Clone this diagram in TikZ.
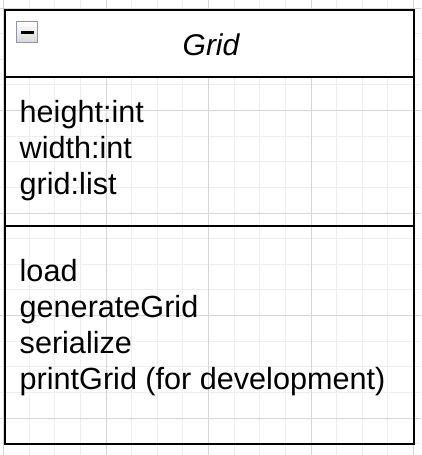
\documentclass[tikz,border=0pt]{standalone}
\usepackage{fontspec}
\setmainfont{Liberation Sans}
\usepackage{tikz}

\definecolor{MinorGrid}{HTML}{EEEEEE}
\definecolor{MajorGrid}{HTML}{D6D6D6}
\definecolor{IconBorder}{HTML}{8E95A5}

\tikzset{
  minorline/.style = {draw = MinorGrid, line width = 1pt},
  majorline/.style = {draw = MajorGrid, line width = 1pt},
  classline/.style = {draw = black, line width = 2pt},
  member/.style = {anchor = base west, inner sep = 0pt, font = \fontsize{30.6}{36}\selectfont},
  classname/.style = {anchor = base, inner sep = 0pt, font = \fontsize{30}{36}\selectfont\itshape}
}

\begin{document}
\begin{tikzpicture}[x = 1pt, y = -1pt]
              \useasboundingbox (0,0) rectangle (421,455);
              \fill [fill = white] (0,0) rectangle (421,455);
              % background grid
              \foreach \k in {0, ..., 16}
              \draw [minorline] (3.5+25.625*\k, 0) -- (3.5+25.625*\k, 455);
              \foreach \k in {0, ..., 17}
              \draw [minorline] (0, 8+25.625*\k) -- (421, 8+25.625*\k);
              \foreach \k in {0, 1, 2, 3, 4}
              {\draw [majorline] (3.5+102.5*\k, 0) -- (3.5+102.5*\k, 455);
              \draw [majorline] (0, 8+102.5*\k) -- (421, 8+102.5*\k);}
              % class box
              \fill [fill = white] (5, 10.3) rectangle (414.3, 77);
              \draw [classline] (5, 10.3) rectangle (414.3, 444.3);
              \draw [classline] (5, 77) -- (414.3, 77);
              \draw [classline] (5, 225.7) -- (414.3, 225.7);
              % collapse icon
              \draw [draw = IconBorder, line width = 1.5pt, top color = white, bottom color = black!15] (16.5, 21.5) rectangle (37.5, 42.5);
              \fill [fill = black] (21, 31.3) rectangle (34, 33.5);
              \node [classname] (title) at (211, 55) {Grid};
              \node [member] (height) at (19.5, 122) {height:int};
              \node [member] (width) at (19.5, 158) {width:int};
              \node [member] (gridlist) at (19.5, 194) {grid:list};
              \node [member] (load) at (19.5, 281) {load};
              \node [member] (generate) at (19.5, 317) {generateGrid};
              \node [member] (serialize) at (19.5, 353) {serialize};
              \node [member] (print) at (19.5, 389) {printGrid (for development)};
            \end{tikzpicture}
\end{document}
